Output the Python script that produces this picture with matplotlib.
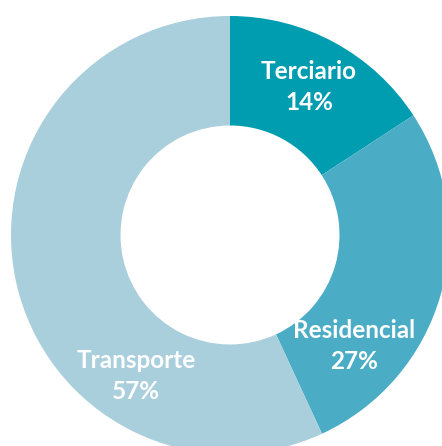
import matplotlib
matplotlib.use("Agg")
import matplotlib.pyplot as plt

# Data (slice sizes; labels as printed)
categories = ["Terciario", "Residencial", "Transporte"]
shares = [15.8, 27.3, 56.9]
pct_labels = ["14%", "27%", "57%"]
colors = ["#009cb0", "#4bacc6", "#a9cedc"]

# label anchor positions (fraction of outer radius), as placed in the original
label_pos = [(0.361, 0.676), (0.566, -0.507), (-0.429, -0.644)]

W, H = 442, 446
fig = plt.figure(figsize=(W / 100, H / 100), dpi=100)
ax = fig.add_axes([0, 0, 1, 1])

cx, cy, R = 230, 235, 219
ax.pie(shares, colors=colors, startangle=90, counterclock=False,
       radius=1.0, wedgeprops=dict(width=0.5, linewidth=0))
ax.set_xlim(-cx / R, (W - cx) / R)
ax.set_ylim(-(H - cy) / R, cy / R)
ax.set_aspect("auto")
ax.axis("off")

for name, pct, (x, y) in zip(categories, pct_labels, label_pos):
    ax.text(x, y, f"{name}\n{pct}", ha="center", va="center", color="white",
            fontsize=17.5, fontweight="bold", family="Lato",
            linespacing=1.45)

fig.savefig("out.png", dpi=100)
